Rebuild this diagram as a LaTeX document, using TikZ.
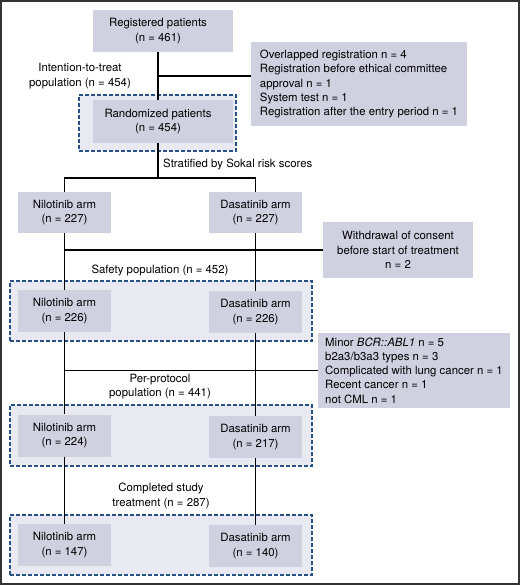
\documentclass[tikz,border=0pt]{standalone}
\usepackage{fontspec}
\setmainfont{TeX Gyre Heros}
\definecolor{boxfill}{RGB}{207,208,224}
\definecolor{grpfill}{RGB}{233,233,242}
\definecolor{grpblue}{RGB}{40,82,132}
\newcommand\fsz{\fontsize{11.4}{14.3}\selectfont}
\tikzset{
  box/.style={fill=boxfill, inner sep=0pt, align=center, font=\fsz},
  grp/.style={draw=grpblue, dash pattern=on 4pt off 2pt, line width=1.2pt, fill=grpfill, inner sep=0pt},
  lbl/.style={align=center, font=\fsz, inner sep=0pt},
  ln/.style={line width=1.2pt, draw=black}
}
\begin{document}
\begin{tikzpicture}[x=1pt,y=-1pt]
\useasboundingbox (0,0) rectangle (520,585);
\draw[line width=1.5pt, draw=black!80] (1,1) rectangle (519,584);
% groups
\node[grp, minimum width=157, minimum height=56] (g1) at (157.5,123) {};
\node[grp, minimum width=302, minimum height=60] (g2) at (161,311) {};
\node[grp, minimum width=302, minimum height=61] (g3) at (161,435.5) {};
\node[grp, minimum width=302, minimum height=60] (g4) at (161,545) {};
% boxes
\node[box, minimum width=140, minimum height=42] (reg) at (163,31) {};
\node[lbl] (regt) at (158,31) {Registered patients\\(n = 461)};
\node[box, minimum width=216, minimum height=84, align=left] (excl) at (359,84)
  {Overlapped registration n = 4\\Registration before ethical committee\\approval n = 1\\System test n = 1\\Registration after the entry period n = 1};
\node[box, minimum width=140, minimum height=43] (rand) at (163,121.5) {};
\node[lbl] (randt) at (158,121.5) {Randomized patients\\(n = 454)};
\node[box, minimum width=93, minimum height=41] (n1) at (64.5,212.5) {Nilotinib arm\\(n = 227)};
\node[box, minimum width=93, minimum height=41] (d1) at (255.5,212.5) {Dasatinib arm\\(n = 227)};
\node[box, minimum width=150, minimum height=56] (wd) at (398,250) {Withdrawal of consent\\before start of treatment\\n = 2};
\node[box, minimum width=93, minimum height=42] (n2) at (64.5,311) {Nilotinib arm\\(n = 226)};
\node[box, minimum width=93, minimum height=42] (d2) at (255.5,312) {Dasatinib arm\\(n = 226)};
\node[box, minimum width=192, minimum height=75, align=left] (minor) at (414,370.5)
  {Minor \textit{BCR::ABL1} n = 5\\b2a3/b3a3 types n = 3\\Complicated with lung cancer n = 1\\Recent cancer n = 1\\not CML n = 1};
\node[box, minimum width=93, minimum height=42] (n3) at (64.5,435.5) {Nilotinib arm\\(n = 224)};
\node[box, minimum width=93, minimum height=42] (d3) at (255.5,437) {Dasatinib arm\\(n = 217)};
\node[box, minimum width=93, minimum height=42] (n4) at (64.5,545) {Nilotinib arm\\(n = 147)};
\node[box, minimum width=93, minimum height=42] (d4) at (255.5,546) {Dasatinib arm\\(n = 140)};
% labels
\node[lbl] (itt) at (80,76) {Intention-to-treat\\population (n = 454)};
\node[lbl, anchor=west] (strat) at (163,164) {Stratified by Sokal risk scores};
\node[lbl] (safety) at (160,270) {Safety population (n = 452)};
\node[lbl] (pp) at (160,386.5) {Per-protocol\\population (n = 441)};
\node[lbl] (comp) at (161,496) {Completed study\\treatment (n = 287)};
% connectors
\coordinate (b1) at (158,76);
\coordinate (split) at (158,178);
\draw[ln] (reg.south -| regt) -- (rand.north -| randt);
\draw[ln] (b1) -- (b1 -| excl.west);
\draw[ln] (rand.south -| randt) -- (split);
\draw[ln] (n1.north) |- (split) -| (d1.north);
\draw[ln] (n1.south) -- (n2.north);
\draw[ln] (d1.south) -- (d2.north);
\draw[ln] (n1.south |- wd.west) -- (wd.west);
\draw[ln] (n2.south) -- (n3.north);
\draw[ln] (d2.south) -- (d3.north);
\draw[ln] (n2.south |- minor.west) -- (minor.west);
\draw[ln] (n3.south) -- (n4.north);
\draw[ln] (d3.south) -- (d4.north);
\end{tikzpicture}
\end{document}
